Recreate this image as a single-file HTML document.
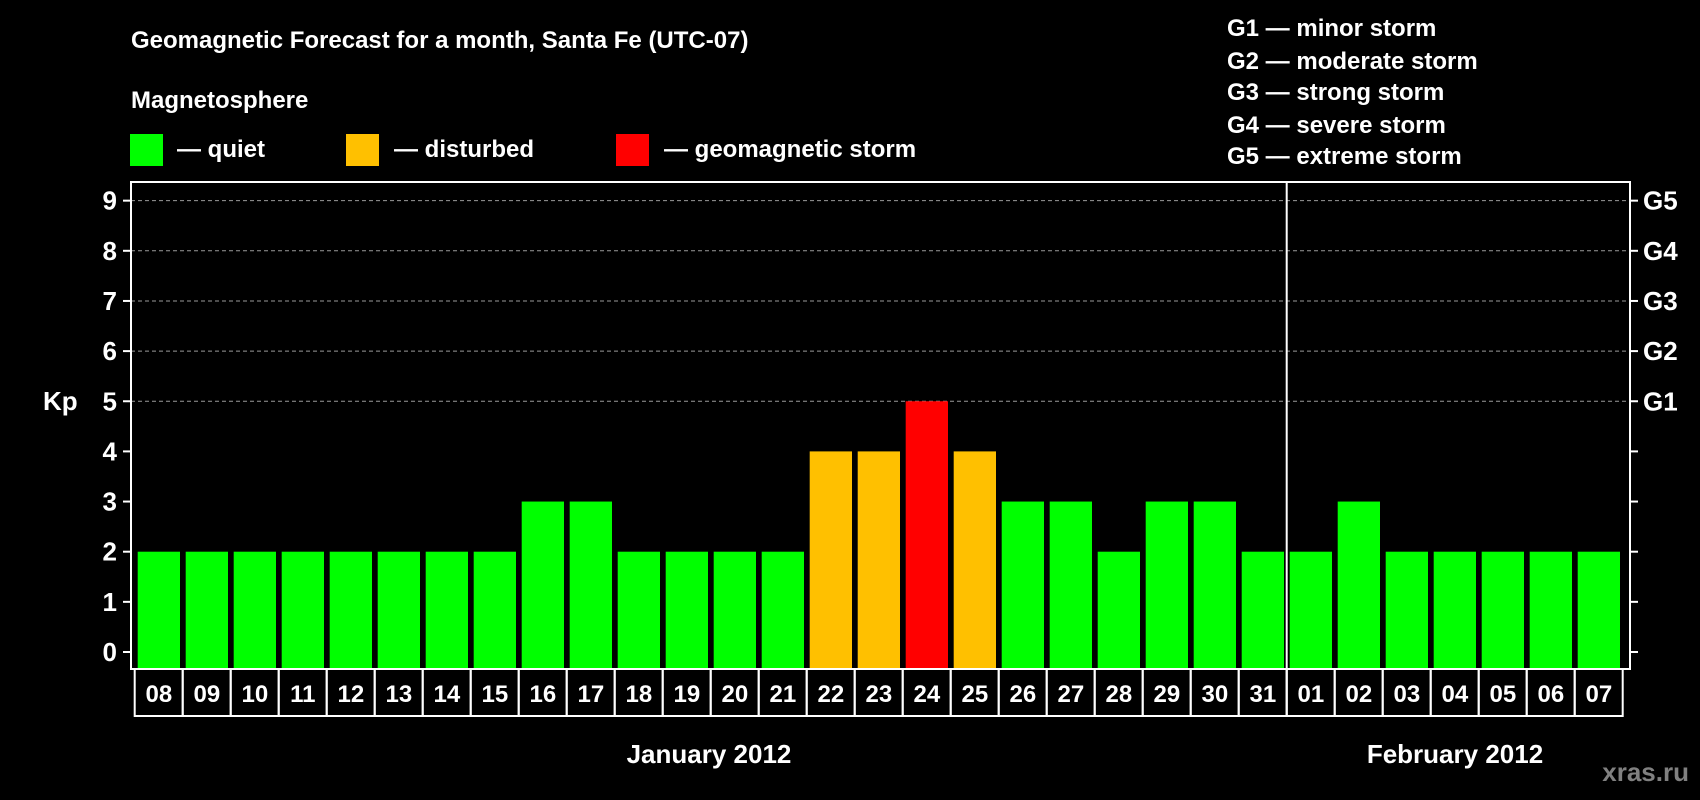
<!DOCTYPE html>
<html><head><meta charset="utf-8"><style>
html,body{margin:0;padding:0;background:#000;}
svg{display:block;font-family:"Liberation Sans",Arial,sans-serif;font-weight:bold;}
</style></head><body>
<svg id="chart" width="1700" height="800" viewBox="0 0 1700 800" xmlns="http://www.w3.org/2000/svg">
<rect width="1700" height="800" fill="#000"/>
<text x="131" y="48" fill="#fff" font-size="24">Geomagnetic Forecast for a month, Santa Fe (UTC-07)</text>
<text x="131" y="108" fill="#fff" font-size="24">Magnetosphere</text>
<rect x="130" y="134" width="33" height="32" fill="#00ff00"/>
<text x="177" y="157" fill="#fff" font-size="24">— quiet</text>
<rect x="346" y="134" width="33" height="32" fill="#ffc000"/>
<text x="394" y="157" fill="#fff" font-size="24">— disturbed</text>
<rect x="616" y="134" width="33" height="32" fill="#ff0000"/>
<text x="664" y="157" fill="#fff" font-size="24">— geomagnetic storm</text>
<g fill="#fff" font-size="24">
<text x="1227" y="36">G1 — minor storm</text>
<text x="1227" y="69">G2 — moderate storm</text>
<text x="1227" y="100">G3 — strong storm</text>
<text x="1227" y="133">G4 — severe storm</text>
<text x="1227" y="164">G5 — extreme storm</text>
</g>
<text x="43" y="410" fill="#fff" font-size="26">Kp</text>
<g id="plot"></g>
<text x="709" y="763" fill="#fff" font-size="26" text-anchor="middle">January 2012</text>
<text x="1455" y="763" fill="#fff" font-size="26" text-anchor="middle">February 2012</text>
<text x="1689" y="781" fill="#808080" font-size="26" text-anchor="end">xras.ru</text>
</svg>
<script>
const days = ["08","09","10","11","12","13","14","15","16","17","18","19","20","21","22","23","24","25","26","27","28","29","30","31","01","02","03","04","05","06","07"];
const kpValues = [2,2,2,2,2,2,2,2,3,3,2,2,2,2,4,4,5,4,3,3,2,3,3,2,2,3,2,2,2,2,2];
const yTicks = [0,1,2,3,4,5,6,7,8,9];
const stormLabels = ["G1","G2","G3","G4","G5"];
const stormLevels = [5,6,7,8,9];
const monthBreakIndex = 24;

const NS="http://www.w3.org/2000/svg";
const g=document.getElementById('plot');
const L=131,R=1630,T=182,B=669;
const y0=652,unit=50.15;
const x0=137.7,step=48.0,bw=42.3;
function yS(v){return y0-v*unit;}
function xS(i){return x0+i*step;}
function mk(tag,attrs){const e=document.createElementNS(NS,tag);for(const k in attrs)e.setAttribute(k,attrs[k]);g.appendChild(e);return e;}

// gridlines
stormLevels.forEach(v=>{
  const l=mk('line',{x1:L,x2:R,y1:yS(v),y2:yS(v),stroke:'#9a9a9a','stroke-width':1,'stroke-dasharray':'4,3'});
  
  
});
// bars
kpValues.forEach((v,i)=>{
  const c=v>=5?'#ff0000':(v>=4?'#ffc000':'#00ff00');
  const r=mk('rect',{x:xS(i),y:yS(v),width:bw,height:B-yS(v),fill:c});
  
  
});
// frame
const fr=mk('rect',{x:L,y:T,width:R-L,height:B-T,fill:'none',stroke:'#fff','stroke-width':2});


const dv=mk('line',{x1:xS(monthBreakIndex)-3,x2:xS(monthBreakIndex)-3,y1:T,y2:716,stroke:'#fff','stroke-width':2});


// y ticks
yTicks.forEach(v=>{
  const t1=mk('line',{x1:L-8,x2:L,y1:yS(v),y2:yS(v),stroke:'#fff','stroke-width':2});
  
  
  const t2=mk('line',{x1:R,x2:R+8,y1:yS(v),y2:yS(v),stroke:'#fff','stroke-width':2});
  
  
  const tx=mk('text',{x:117,y:yS(v)+9,fill:'#fff','font-size':26,'text-anchor':'end'});
  tx.textContent=v;
  
  
});
stormLabels.forEach((s,i)=>{
  const tx=mk('text',{x:1643,y:yS(stormLevels[i])+9,fill:'#fff','font-size':26});
  tx.textContent=s;
  
  
});
// day label boxes
days.forEach((d,i)=>{
  const bx=mk('rect',{x:xS(i)-3,y:B,width:step,height:47,fill:'none',stroke:'#fff','stroke-width':2});
  
  
  const tx=mk('text',{x:xS(i)+bw/2,y:B+33,fill:'#fff','font-size':24,'text-anchor':'middle'});
  tx.textContent=d;
  
  
});
</script>
</body></html>
